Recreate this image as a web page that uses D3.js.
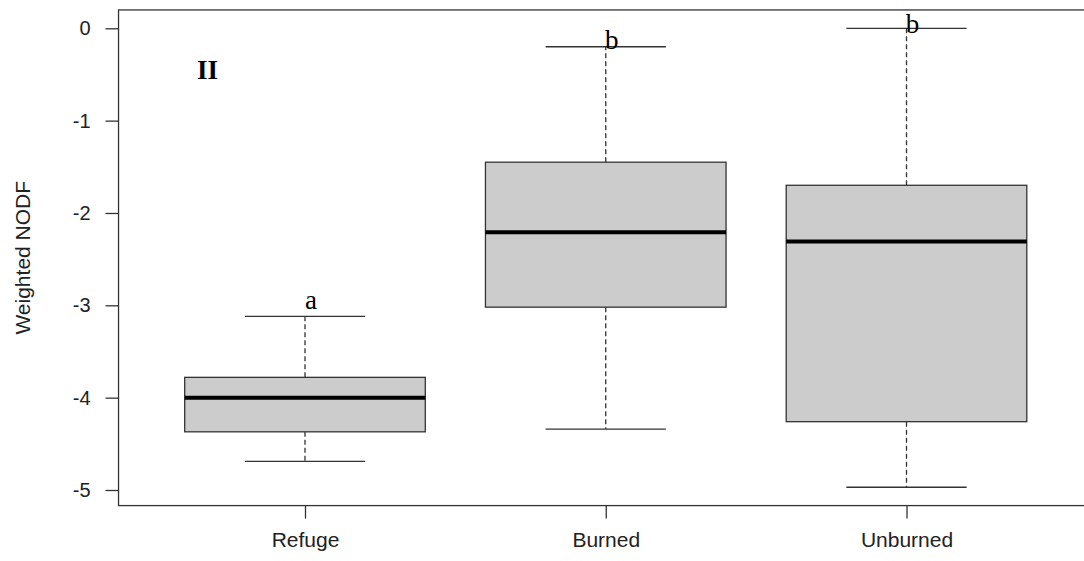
<!DOCTYPE html>
<html>
<head>
<meta charset="utf-8">
<script src="https://cdn.jsdelivr.net/npm/d3@7"></script>
<style>
  body { margin: 0; background: #fff; }
  svg { display: block; }
</style>
</head>
<body>
<div id="chart"></div>
<script>
// data
var groups = ["Refuge", "Burned", "Unburned"];
var whiskerLow  = [-4.69, -4.34, -4.97];
var boxLow      = [-4.37, -3.02, -4.26];
var medians     = [-4.00, -2.21, -2.31];
var boxHigh     = [-3.78, -1.45, -1.70];
var whiskerHigh = [-3.12, -0.20, 0.00];
var letters     = ["a", "b", "b"];
var letterY     = [-3.04, -0.225, -0.05];
var yTicks      = [0, -1, -2, -3, -4, -5];

var width = 1084, height = 561;

var svg = d3.select("#chart").append("svg")
    .attr("width", width)
    .attr("height", height);

// y scale (value -> px)
var y = d3.scaleLinear().domain([0, -5]).range([28.3, 490]);

// x: group index -> px  (R style, xlim 0.5..3.5 plus 4%)
var xi = d3.scaleLinear().domain([1, 3]).range([305, 906.5]);
var step = xi(2) - xi(1);

var lo = d3.min(whiskerLow), hi = d3.max(whiskerHigh);
var pad = (hi - lo) * 0.04;
var plotTop = y(hi + pad), plotBottom = y(lo - pad);
var plotLeft = xi(0.5 - 0.12), plotRight = xi(3.5 + 0.12);

var ink = "#333";

// boxes
groups.forEach(function (g, i) {
    var cx = xi(i + 1);
    var bw = step * 0.4, cw = step * 0.2;
    var grp = svg.append("g");

    // whiskers
    grp.append("line")
        .attr("x1", cx).attr("x2", cx)
        .attr("y1", y(boxHigh[i])).attr("y2", y(whiskerHigh[i]))
        .attr("stroke", ink).attr("stroke-width", 1.3)
        .attr("stroke-dasharray", "5,3");
    grp.append("line")
        .attr("x1", cx).attr("x2", cx)
        .attr("y1", y(boxLow[i])).attr("y2", y(whiskerLow[i]))
        .attr("stroke", ink).attr("stroke-width", 1.3)
        .attr("stroke-dasharray", "5,3");

    // caps
    [whiskerHigh[i], whiskerLow[i]].forEach(function (v) {
        grp.append("line")
            .attr("x1", cx - cw).attr("x2", cx + cw)
            .attr("y1", y(v)).attr("y2", y(v))
            .attr("stroke", ink).attr("stroke-width", 1.3);
    });

    // box
    grp.append("rect")
        .attr("x", cx - bw)
        .attr("y", y(boxHigh[i]))
        .attr("width", bw * 2)
        .attr("height", y(boxLow[i]) - y(boxHigh[i]))
        .attr("fill", "#cccccc")
        .attr("stroke", ink).attr("stroke-width", 1.3);

    // median
    grp.append("line")
        .attr("x1", cx - bw).attr("x2", cx + bw)
        .attr("y1", y(medians[i])).attr("y2", y(medians[i]))
        .attr("stroke", "#000").attr("stroke-width", 4);
});

// frame
svg.append("rect")
    .attr("x", plotLeft).attr("y", plotTop)
    .attr("width", plotRight - plotLeft)
    .attr("height", plotBottom - plotTop)
    .attr("fill", "none")
    .attr("stroke", ink).attr("stroke-width", 1.3);

// y axis
var yAxis = d3.axisLeft(y).tickValues(yTicks).tickSize(13).tickPadding(15)
    .tickFormat(function (d) { return d3.format("d")(d).replace("−", "-"); });
var ya = svg.append("g")
    .attr("transform", "translate(" + plotLeft + ",0)")
    .call(yAxis);
ya.select(".domain").remove();
ya.selectAll(".tick line").attr("stroke", ink).attr("stroke-width", 1.3);
ya.selectAll(".tick text")
    .attr("fill", "#222")
    .attr("font-family", "Liberation Sans, Arial, sans-serif")
    .attr("font-size", 20);

// x axis
var xs = d3.scalePoint().domain(groups).range([xi(1), xi(3)]);
var xAxis = d3.axisBottom(xs).tickSize(13).tickPadding(14);
var xa = svg.append("g")
    .attr("transform", "translate(0," + plotBottom + ")")
    .call(xAxis);
xa.select(".domain").remove();
xa.selectAll(".tick line").attr("stroke", ink).attr("stroke-width", 1.3);
xa.selectAll(".tick text")
    .attr("fill", "#222")
    .attr("font-family", "Liberation Sans, Arial, sans-serif")
    .attr("font-size", 21);

// y title
svg.append("text")
    .attr("transform", "translate(30," + ((plotTop + plotBottom) / 2) + ") rotate(-90)")
    .attr("text-anchor", "middle")
    .attr("fill", "#222")
    .attr("font-family", "Liberation Sans, Arial, sans-serif")
    .attr("font-size", 21)
    .text("Weighted NODF");

// panel label
svg.append("text")
    .attr("x", xi(0.676)).attr("y", y(-0.549))
    .attr("text-anchor", "middle")
    .attr("font-family", "Liberation Serif, Times New Roman, serif")
    .attr("font-weight", "bold")
    .attr("font-size", 27)
    .text("II");

// significance letters
svg.selectAll(".letter")
    .data(letters)
    .enter().append("text")
    .attr("class", "letter")
    .attr("x", function (d, i) { return xi(i + 1) + 6; })
    .attr("y", function (d, i) { return y(letterY[i]); })
    .attr("text-anchor", "middle")
    .attr("font-family", "Liberation Serif, Times New Roman, serif")
    .attr("font-size", 27)
    .text(function (d) { return d; });
</script>
</body>
</html>
